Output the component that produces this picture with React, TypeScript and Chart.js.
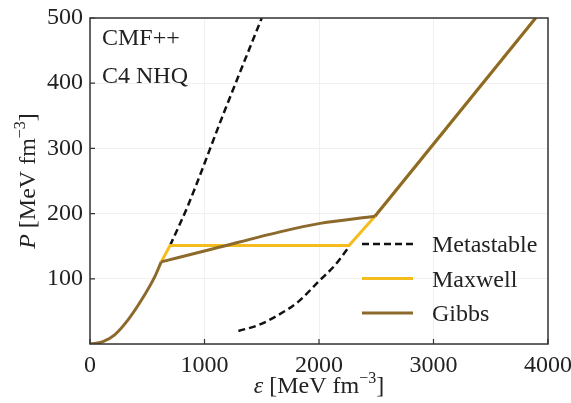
import React, { useEffect, useRef } from 'react';
import { Chart, registerables } from 'chart.js';
Chart.register(...registerables);

// ---- data ----
const xTickValues = [0, 1000, 2000, 3000, 4000];
const yTickValues = [100, 200, 300, 400, 500];

// hadronic branch (shared by all constructions)
const hadronEps = [0, 113, 215, 332, 448, 565, 622];
const hadronP = [0, 3.5, 14, 37, 67, 103, 126];
// Gibbs mixed phase
const gibbsMixedEps = [622, 1077, 1659, 2009, 2489];
const gibbsMixedP = [126, 146, 172, 185, 196];
// quark branch
const quarkEps = [2489, 3892];
const quarkP = [196, 500];
// Maxwell construction
const maxwellEps = [622, 699, 2262, 2489];
const maxwellP = [126, 151, 151, 196];
// metastable branches
const metaHadronEps = [699, 850, 1170, 1500];
const metaHadronP = [151, 210, 355, 500];
const metaQuarkEps = [1296, 1470, 1645, 1820, 1994, 2140, 2262];
const metaQuarkP = [20, 29, 44.5, 65, 95.5, 121, 149];

const legendLabels = ['Metastable', 'Maxwell', 'Gibbs'];
const annotationLines = ['CMF++', 'C4 NHQ'];

const GIBBS = '#8C6A2C';
const MAXWELL = '#F4BC1C';
const META = '#111111';
const FONT = '"Liberation Serif", "Times New Roman", serif';

const pts = (xs: number[], ys: number[]) => xs.map((x, i) => ({ x, y: ys[i] }));

export default function App() {
  const ref = useRef<HTMLCanvasElement | null>(null);
  useEffect(() => {
    if (!ref.current) return;
    const overlay = {
      id: 'overlay',
      afterDraw(chart: any) {
        const { ctx, chartArea } = chart;
        const { left, right, top, bottom } = chartArea;
        const xs = chart.scales.x;
        const ys = chart.scales.y;
        ctx.save();
        // frame
        ctx.strokeStyle = '#333';
        ctx.lineWidth = 1.5;
        ctx.strokeRect(left, top, right - left, bottom - top);
        // inward ticks
        ctx.lineWidth = 1.2;
        ctx.beginPath();
        xTickValues.forEach((v) => {
          const px = xs.getPixelForValue(v);
          ctx.moveTo(px, bottom);
          ctx.lineTo(px, bottom - 5);
        });
        yTickValues.forEach((v) => {
          const py = ys.getPixelForValue(v);
          ctx.moveTo(left, py);
          ctx.lineTo(left + 5, py);
        });
        ctx.stroke();

        ctx.fillStyle = '#222';
        ctx.textBaseline = 'alphabetic';
        // annotations
        ctx.font = `24px ${FONT}`;
        ctx.textAlign = 'left';
        ctx.fillText(annotationLines[0], left + 12, top + 27);
        ctx.fillText(annotationLines[1], left + 12, top + 65);

        // legend
        const styles = [
          { color: META, dash: [7, 4], width: 2.5 },
          { color: MAXWELL, dash: [], width: 3 },
          { color: GIBBS, dash: [], width: 3 },
        ];
        const ly0 = 244;
        legendLabels.forEach((lab, i) => {
          const y = ly0 + i * 34.5;
          const s = styles[i];
          ctx.strokeStyle = s.color;
          ctx.lineWidth = s.width;
          ctx.setLineDash(s.dash);
          ctx.beginPath();
          ctx.moveTo(362, y);
          ctx.lineTo(413, y);
          ctx.stroke();
          ctx.setLineDash([]);
          ctx.fillText(lab, 432, y + 8);
        });

        // axis titles
        const drawTitle = (sym: string, cx: number, baseY: number) => {
          const f1 = `italic 24px ${FONT}`;
          const f2 = `24px ${FONT}`;
          const f3 = `16px ${FONT}`;
          const parts = [
            { t: sym, f: f1, dy: 0 },
            { t: ' [MeV fm', f: f2, dy: 0 },
            { t: '\u22123', f: f3, dy: -10 },
            { t: ']', f: f2, dy: 0 },
          ];
          let w = 0;
          parts.forEach((p) => { ctx.font = p.f; w += ctx.measureText(p.t).width; });
          let x = cx - w / 2;
          ctx.textAlign = 'left';
          parts.forEach((p) => {
            ctx.font = p.f;
            ctx.fillText(p.t, x, baseY + p.dy);
            x += ctx.measureText(p.t).width;
          });
        };
        drawTitle('\u03B5', (left + right) / 2, 393);
        ctx.translate(35, (top + bottom) / 2);
        ctx.rotate(-Math.PI / 2);
        drawTitle('P', 0, 0);
        ctx.restore();
      },
    };

    const chart = new Chart(ref.current, {
      type: 'line',
      data: {
        datasets: [
          { label: 'Gibbs', data: pts(hadronEps, hadronP), borderColor: GIBBS, borderWidth: 3, pointRadius: 0, cubicInterpolationMode: 'monotone', order: 0 },
          { label: 'Gibbs mixed', data: pts(gibbsMixedEps, gibbsMixedP), borderColor: GIBBS, borderWidth: 3, pointRadius: 0, cubicInterpolationMode: 'monotone', order: 0 },
          { label: 'Gibbs quark', data: pts(quarkEps, quarkP), borderColor: GIBBS, borderWidth: 3, pointRadius: 0, order: 0 },
          { label: 'Maxwell', data: pts(maxwellEps, maxwellP), borderColor: MAXWELL, borderWidth: 3, pointRadius: 0, order: 1 },
          { label: 'Maxwell quark', data: pts(quarkEps, quarkP), borderColor: MAXWELL, borderWidth: 3, pointRadius: 0, order: 1 },
          { label: 'Metastable', data: pts(metaHadronEps, metaHadronP), borderColor: META, borderWidth: 2.5, borderDash: [7, 4], pointRadius: 0, cubicInterpolationMode: 'monotone', order: 2 },
          { label: 'Metastable quark', data: pts(metaQuarkEps, metaQuarkP), borderColor: META, borderWidth: 2.5, borderDash: [7, 4], pointRadius: 0, cubicInterpolationMode: 'monotone', order: 2 },
        ] as any,
      },
      options: {
        responsive: false,
        animation: false,
        layout: { padding: { top: 18, right: 23, left: 0, bottom: 0 } },
        plugins: { legend: { display: false }, tooltip: { enabled: false } },
        scales: {
          x: {
            type: 'linear',
            min: 0,
            max: 4000,
            ticks: { stepSize: 1000, color: '#222', font: { family: FONT, size: 24 }, padding: 7, maxRotation: 0, callback: (v: any) => String(v) },
            grid: { color: '#f0f0f0', drawTicks: false },
            border: { display: false },
            afterFit: (s: any) => { s.height = 59; s.paddingLeft = 0; s.paddingRight = 0; },
          },
          y: {
            type: 'linear',
            min: 0,
            max: 500,
            ticks: { stepSize: 100, color: '#222', font: { family: FONT, size: 24 }, padding: 7, callback: (v: any) => (v === 0 ? '' : String(v)) },
            grid: { color: '#f0f0f0', drawTicks: false },
            border: { display: false },
            afterFit: (s: any) => { s.width = 90; s.paddingTop = 0; s.paddingBottom = 0; },
          },
        },
      } as any,
      plugins: [overlay],
    });
    return () => chart.destroy();
  }, []);
  return (
    <div style={{ position: 'fixed', left: 0, top: 0, width: 571, height: 403, background: '#fff' }}>
      <canvas ref={ref} width={571} height={403} />
    </div>
  );
}
